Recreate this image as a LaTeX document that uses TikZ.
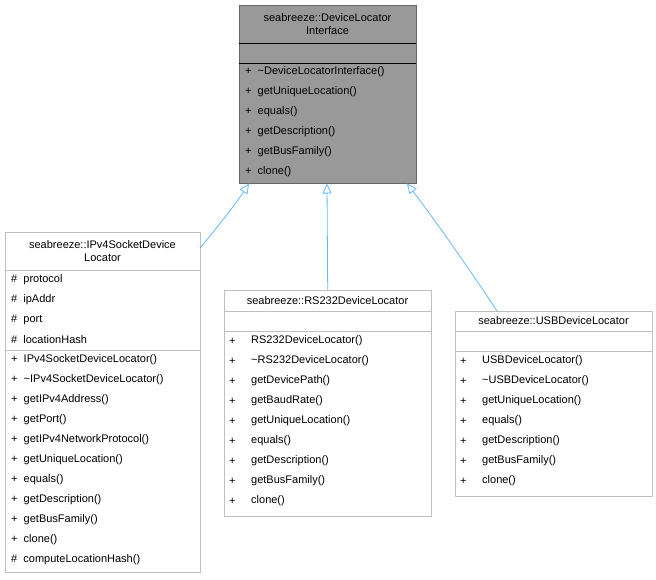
\documentclass[tikz,border=0pt]{standalone}
\usepackage{fontspec}
\setmainfont{Liberation Sans}
\usetikzlibrary{positioning,arrows.meta}
\definecolor{basefill}{HTML}{999999}
\definecolor{baseline}{HTML}{666666}
\definecolor{boxline}{HTML}{BFBFBF}
\definecolor{edgeblue}{HTML}{63B8FF}
\begin{document}
\begin{tikzpicture}[x=1pt,y=-1pt,
    box/.style={draw=boxline,fill=white,anchor=north west,inner sep=0pt},
    basebox/.style={draw=baseline,fill=basefill,anchor=north west,inner sep=0pt},
    member/.style={anchor=west,inner sep=0pt,font=\fontsize{11}{13}\selectfont},
    title/.style={anchor=center,inner sep=0pt,align=center,font=\fontsize{11}{13.5}\selectfont},
    isa/.style={draw=edgeblue,line width=0.8pt,-{Triangle[open,length=10pt,width=9pt]}}
  ]
  \useasboundingbox (0,0) rectangle (656,579);
  % base class
  \node[basebox,minimum width=177pt,minimum height=178pt] (base) at (239,5) {};
  \draw[baseline] (239,43) -- (416,43) (239,63) -- (416,63);
  \node[title] (basename) at (327.5,24) {seabreeze::DeviceLocator\\Interface};
  \foreach \m [count=\i from 0] in {{+\ \ \textasciitilde DeviceLocatorInterface()},{+\ \ getUniqueLocation()},
      {+\ \ equals()},{+\ \ getDescription()},{+\ \ getBusFamily()},{+\ \ clone()}}
    \node[member] (bm\i) at (245,72+20*\i) {\m};
  % ipv4 locator
  \node[box,minimum width=195pt,minimum height=340pt] (ipv4) at (5,232) {};
  \draw[boxline] (5,270) -- (200,270) (5,350) -- (200,350);
  \node[title] (ipv4name) at (102.5,251) {seabreeze::IPv4SocketDevice\\Locator};
  \foreach \m [count=\i from 0] in {protocol,ipAddr,port,locationHash}
    \node[member] (ia\i) at (11,280+20*\i) {\#\ \ \m};
  \foreach \s/\m [count=\i from 0] in {+/IPv4SocketDeviceLocator(),+/\textasciitilde IPv4SocketDeviceLocator(),
      +/getIPv4Address(),+/getPort(),+/getIPv4NetworkProtocol(),+/getUniqueLocation(),+/equals(),
      +/getDescription(),+/getBusFamily(),+/clone(),\#/computeLocationHash()}
    \node[member] (im\i) at (11,360+20*\i) {\s\ \ \m};
  % rs232 locator
  \node[box,minimum width=207pt,minimum height=226pt] (rs232) at (224,290) {};
  \draw[boxline] (224,311) -- (431,311) (224,331) -- (431,331);
  \node[title] (rs232name) at (327.5,301) {seabreeze::RS232DeviceLocator};
  \foreach \m [count=\i from 0] in {RS232DeviceLocator(),\textasciitilde RS232DeviceLocator(),getDevicePath(),
      getBaudRate(),getUniqueLocation(),equals(),getDescription(),getBusFamily(),clone()} {
    \node[member] (rp\i) at (229,341+20*\i) {+};
    \node[member] (rm\i) at (251,341+20*\i) {\m};
  }
  % usb locator
  \node[box,minimum width=197pt,minimum height=185pt] (usb) at (455,311) {};
  \draw[boxline] (455,331) -- (652,331) (455,351) -- (652,351);
  \node[title] (usbname) at (553.5,321) {seabreeze::USBDeviceLocator};
  \foreach \m [count=\i from 0] in {USBDeviceLocator(),\textasciitilde USBDeviceLocator(),getUniqueLocation(),
      equals(),getDescription(),getBusFamily(),clone()} {
    \node[member] (up\i) at (460,361+20*\i) {+};
    \node[member] (um\i) at (482,361+20*\i) {\m};
  }
  % inheritance
  \coordinate (ipv4top) at (200,248);
  \coordinate (usbtop) at (497,311);
  \draw[isa] (ipv4top) .. controls (215,230) and (235,205) .. (249,183.5);
  \draw[isa] (rs232.north) -- (327,183.5);
  \draw[isa] (usbtop) .. controls (470,270) and (435,220) .. (407,183.5);
\end{tikzpicture}
\end{document}
